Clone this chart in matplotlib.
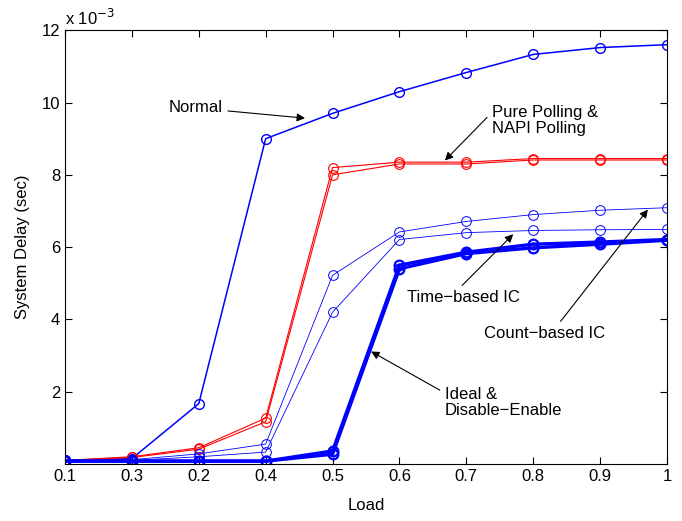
import numpy as np
import matplotlib.pyplot as plt

plt.rcParams['font.family'] = ['Liberation Sans', 'DejaVu Sans']

# eje x: posiciones 1..10, etiquetas tal como aparecen en la figura
tick_labels = ['0.1', '0.3', '0.2', '0.4', '0.5', '0.6', '0.7', '0.8', '0.9', '1']
pos = np.arange(1, len(tick_labels) + 1)

# retardos en unidades de 1e-3 s
normal = [0.1, 0.15, 1.67, 9.0, 9.7, 10.3, 10.83, 11.33, 11.52, 11.6]
pure_polling = [0.1, 0.2, 0.45, 1.27, 8.2, 8.35, 8.35, 8.45, 8.45, 8.45]
napi_polling = [0.1, 0.18, 0.41, 1.17, 8.0, 8.3, 8.3, 8.41, 8.41, 8.41]
count_ic = [0.1, 0.12, 0.28, 0.55, 5.22, 6.42, 6.71, 6.9, 7.02, 7.09]
time_ic = [0.1, 0.1, 0.2, 0.33, 4.2, 6.21, 6.4, 6.46, 6.48, 6.49]
ideal = [0.08, 0.08, 0.08, 0.08, 0.36, 5.5, 5.86, 6.08, 6.14, 6.21]
dis_en = [0.08, 0.08, 0.08, 0.08, 0.27, 5.4, 5.82, 5.98, 6.08, 6.19]

fig = plt.figure(figsize=(6.82, 5.21), dpi=100)
ax = fig.add_axes([0.0953, 0.1094, 0.8827, 0.8326])

mk = dict(marker='o', mfc='none', ms=7)
ax.plot(pos, normal, color='blue', lw=1.1, mew=1.0, **mk)
ax.plot(pos, pure_polling, color='red', lw=0.8, mew=0.8, **mk)
ax.plot(pos, napi_polling, color='red', lw=0.8, mew=0.8, **mk)
ax.plot(pos, count_ic, color='blue', lw=0.6, mew=0.7, **mk)
ax.plot(pos, time_ic, color='blue', lw=0.6, mew=0.7, **mk)
ax.plot(pos, ideal, color='blue', lw=2.4, mew=1.6, **mk)
ax.plot(pos, dis_en, color='blue', lw=2.4, mew=1.6, **mk)

ax.set_xlim(1, 10)
ax.set_ylim(0, 12)
ax.set_xticks(pos)
ax.set_xticklabels(tick_labels)
ax.set_yticks([2, 4, 6, 8, 10, 12])
ax.tick_params(direction='in', top=True, right=True, labelsize=12, length=5)
ax.set_xlabel('Load', fontsize=12, labelpad=10)
ax.set_ylabel('System Delay (sec)', fontsize=12, labelpad=8)
ax.text(0.0, 1.005, 'x 10$^{-3}$', transform=ax.transAxes, fontsize=12,
        ha='left', va='bottom')

flecha = dict(arrowstyle='-|>', color='black', lw=0.8, mutation_scale=12)
ax.annotate('Normal', xy=(4.63, 9.56), xytext=(2.95, 9.85), fontsize=12,
            ha='center', va='center', arrowprops=flecha)
ax.annotate('Pure Polling &\nNAPI Polling', xy=(6.65, 8.34), xytext=(7.38, 9.5),
            fontsize=12, ha='left', va='center', linespacing=1.15,
            arrowprops=dict(flecha, relpos=(0.0, 0.75)))
ax.annotate('Time\u2212based IC', xy=(7.73, 6.41), xytext=(6.95, 4.6), fontsize=12,
            ha='center', va='center', arrowprops=dict(flecha, relpos=(0.45, 1.0)))
ax.annotate('Count\u2212based IC', xy=(9.74, 7.1), xytext=(8.17, 3.6), fontsize=12,
            ha='center', va='center', arrowprops=dict(flecha, relpos=(0.6, 1.0)))
ax.annotate('Ideal &\nDisable\u2212Enable', xy=(5.54, 3.15), xytext=(6.68, 1.7),
            fontsize=12, ha='left', va='center', linespacing=1.15,
            arrowprops=dict(flecha, relpos=(0.0, 0.8)))

fig.savefig('out.png', dpi=100)
